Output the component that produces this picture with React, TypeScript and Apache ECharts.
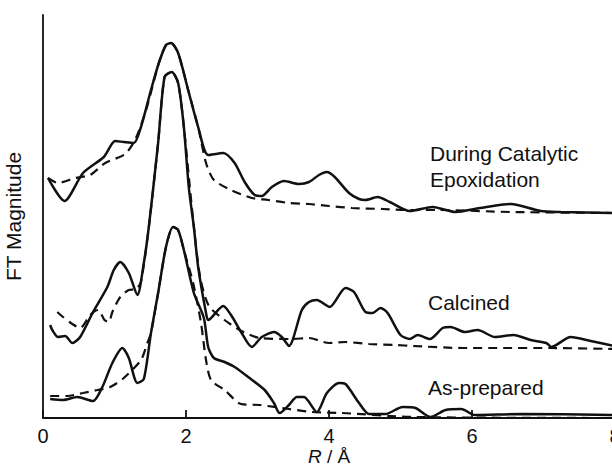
import React, { useEffect, useRef } from "react";
import * as echarts from "echarts";

const xTicks = [0, 2, 4, 6, 8];

const duringObs: [number, number][] = [
  [0.07, 240], [0.3, 217], [0.56, 245], [0.85, 261], [1.01, 277], [1.13, 276], [1.27, 275],
  [1.37, 291], [1.51, 328], [1.62, 355], [1.72, 373], [1.79, 375], [1.89, 365], [2.03, 328],
  [2.17, 291], [2.31, 263], [2.52, 265], [2.68, 255], [2.82, 236], [2.96, 223], [3.06, 222],
  [3.2, 231], [3.37, 237], [3.58, 234], [3.72, 236], [3.86, 243], [3.97, 246], [4.08, 241],
  [4.28, 225], [4.42, 219], [4.51, 218], [4.68, 221], [4.85, 216], [5.13, 207], [5.45, 211],
  [5.77, 206], [6.11, 210], [6.54, 214], [6.96, 207], [7.24, 206], [7.99, 205],
];

const duringFit: [number, number][] = [
  [0.07, 240], [0.21, 235], [0.45, 240], [0.66, 243], [0.87, 255], [1.15, 264], [1.3, 280],
  [1.45, 310], [1.62, 355], [1.72, 373], [1.79, 375], [1.89, 365], [2.03, 328], [2.17, 291],
  [2.28, 255], [2.39, 238], [2.63, 228], [2.92, 220], [3.15, 218], [3.44, 215], [3.72, 214],
  [4.0, 212], [4.32, 210], [4.75, 209], [5.07, 208], [5.55, 208], [6.54, 206], [7.99, 205],
];

const calcinedObs: [number, number][] = [
  [0.1, 93], [0.13, 88], [0.21, 81], [0.31, 82], [0.41, 75], [0.52, 81], [0.7, 106],
  [0.9, 131], [0.99, 148], [1.08, 156], [1.2, 145], [1.32, 123], [1.41, 155], [1.48, 191],
  [1.61, 275], [1.7, 341], [1.8, 346], [1.89, 335], [1.97, 291], [2.04, 230], [2.11, 191],
  [2.17, 151], [2.28, 105], [2.31, 98], [2.52, 112], [2.63, 103], [2.77, 86], [2.92, 71],
  [3.06, 81], [3.23, 86], [3.34, 81], [3.44, 72], [3.62, 108], [3.72, 116], [3.83, 118],
  [4.01, 111], [4.23, 130], [4.35, 126], [4.51, 106], [4.61, 105], [4.72, 110], [4.82, 105],
  [5.0, 83], [5.13, 79], [5.24, 83], [5.41, 79], [5.59, 90], [5.7, 91], [5.9, 86],
  [6.08, 88], [6.32, 81], [6.58, 83], [6.82, 78], [7.04, 75], [7.11, 71], [7.38, 81],
  [7.66, 77], [7.99, 72],
];

const calcinedFit: [number, number][] = [
  [0.2, 106], [0.28, 101], [0.41, 94], [0.52, 90], [0.66, 103], [0.77, 108], [0.86, 98],
  [0.92, 96], [0.97, 106], [1.08, 121], [1.2, 128], [1.3, 129], [1.37, 136], [1.48, 191],
  [1.61, 275], [1.7, 341], [1.8, 346], [1.89, 335], [1.97, 291], [2.11, 191], [2.2, 140],
  [2.32, 112], [2.54, 98], [2.75, 88], [3.03, 80], [3.48, 79], [3.72, 80], [4.0, 75],
  [4.23, 76], [4.56, 74], [4.93, 73], [5.17, 72], [5.87, 70], [6.44, 70], [7.1, 70],
  [7.99, 69],
];

const asPreparedObs: [number, number][] = [
  [0.1, 19], [0.28, 18], [0.48, 21], [0.7, 17], [0.83, 31], [0.97, 55], [1.11, 70],
  [1.2, 60], [1.32, 35], [1.41, 39], [1.51, 85], [1.61, 125], [1.72, 171], [1.82, 191],
  [1.89, 188], [1.97, 168], [2.11, 125], [2.25, 100], [2.31, 71], [2.39, 60], [2.54, 56],
  [2.68, 51], [2.87, 41], [3.1, 28], [3.23, 15], [3.31, 5], [3.44, 13], [3.55, 21],
  [3.65, 21], [3.83, 6], [3.97, 25], [4.14, 35], [4.23, 34], [4.42, 15], [4.56, 4],
  [4.79, 4], [5.03, 11], [5.21, 10], [5.42, 1], [5.63, 8], [5.85, 9], [6.04, 3],
  [6.68, 4], [7.99, 3],
];

const asPreparedFit: [number, number][] = [
  [0.1, 22], [0.34, 22], [0.56, 25], [0.76, 28], [0.94, 31], [1.13, 40], [1.37, 58],
  [1.46, 75], [1.51, 85], [1.61, 125], [1.72, 171], [1.82, 191], [1.89, 188], [1.97, 168],
  [2.1, 135], [2.21, 95], [2.28, 58], [2.35, 38], [2.54, 28], [2.77, 14], [3.03, 13],
  [3.44, 9], [3.76, 6], [4.18, 5], [5.17, 1], [7.99, 0],
];

const labels = [
  { text: "During Catalytic\nEpoxidation", x: 430, y: 140 },
  { text: "Calcined", x: 428, y: 289 },
  { text: "As-prepared", x: 428, y: 374 },
];

const FONT = "'Liberation Sans', Arial, Helvetica, sans-serif";
const INK = "#111111";

export default function App() {
  const ref = useRef<HTMLDivElement>(null);
  useEffect(() => {
    if (!ref.current) return;
    const chart = echarts.init(ref.current, undefined, { renderer: "svg" });
    const solid = (name: string, data: [number, number][]) => ({
      name,
      type: "line",
      data,
      showSymbol: false,
      smooth: 0.25,
      lineStyle: { color: INK, width: 2.5, type: "solid" },
      z: 3,
    });
    const dashed = (name: string, data: [number, number][]) => ({
      name,
      type: "line",
      data,
      showSymbol: false,
      smooth: 0.25,
      lineStyle: { color: INK, width: 2.2, type: [9, 6] },
      z: 2,
    });
    chart.setOption({
      animation: false,
      backgroundColor: "#ffffff",
      grid: { left: 43, right: -3, top: 15, bottom: 50, outerBoundsMode: "none", containLabel: false },
      xAxis: {
        type: "value",
        min: 0,
        max: 8,
        interval: 2,
        name: "{i|R} / Å",
        nameLocation: "middle",
        nameGap: 29,
        nameMoveOverlap: false,
        nameTextStyle: {
          fontFamily: FONT,
          fontSize: 19,
          lineHeight: 19,
          color: INK,
          rich: { i: { fontStyle: "italic", fontFamily: FONT, fontSize: 19, lineHeight: 19, color: INK } },
        },
        axisLine: { show: true, lineStyle: { color: INK, width: 1.8 } },
        axisTick: { show: true, inside: true, length: 8, lineStyle: { color: INK, width: 1.8 } },
        axisLabel: {
          fontFamily: FONT,
          fontSize: 20,
          lineHeight: 20,
          color: INK,
          margin: 8,
          formatter: (v: number) => (xTicks.includes(v) ? String(v) : ""),
        },
        splitLine: { show: false },
      },
      yAxis: {
        type: "value",
        min: 0,
        max: 403,
        name: "FT Magnitude",
        nameLocation: "middle",
        nameGap: 19,
        nameTextStyle: { fontFamily: FONT, fontSize: 21, color: INK },
        axisLine: { show: true, lineStyle: { color: INK, width: 1.8 } },
        axisTick: { show: false },
        axisLabel: { show: false },
        splitLine: { show: false },
      },
      series: [
        dashed("During Catalytic Epoxidation (fit)", duringFit),
        solid("During Catalytic Epoxidation", duringObs),
        dashed("Calcined (fit)", calcinedFit),
        solid("Calcined", calcinedObs),
        dashed("As-prepared (fit)", asPreparedFit),
        solid("As-prepared", asPreparedObs),
      ],
      graphic: labels.map((l) => ({
        type: "text",
        left: l.x,
        top: l.y,
        style: {
          text: l.text,
          fontFamily: FONT,
          fontSize: 21,
          lineHeight: 26,
          fill: INK,
        },
      })),
    });
    return () => chart.dispose();
  }, []);
  return <div ref={ref} style={{ width: 612, height: 468, position: "fixed", left: 0, top: 0 }} />;
}
